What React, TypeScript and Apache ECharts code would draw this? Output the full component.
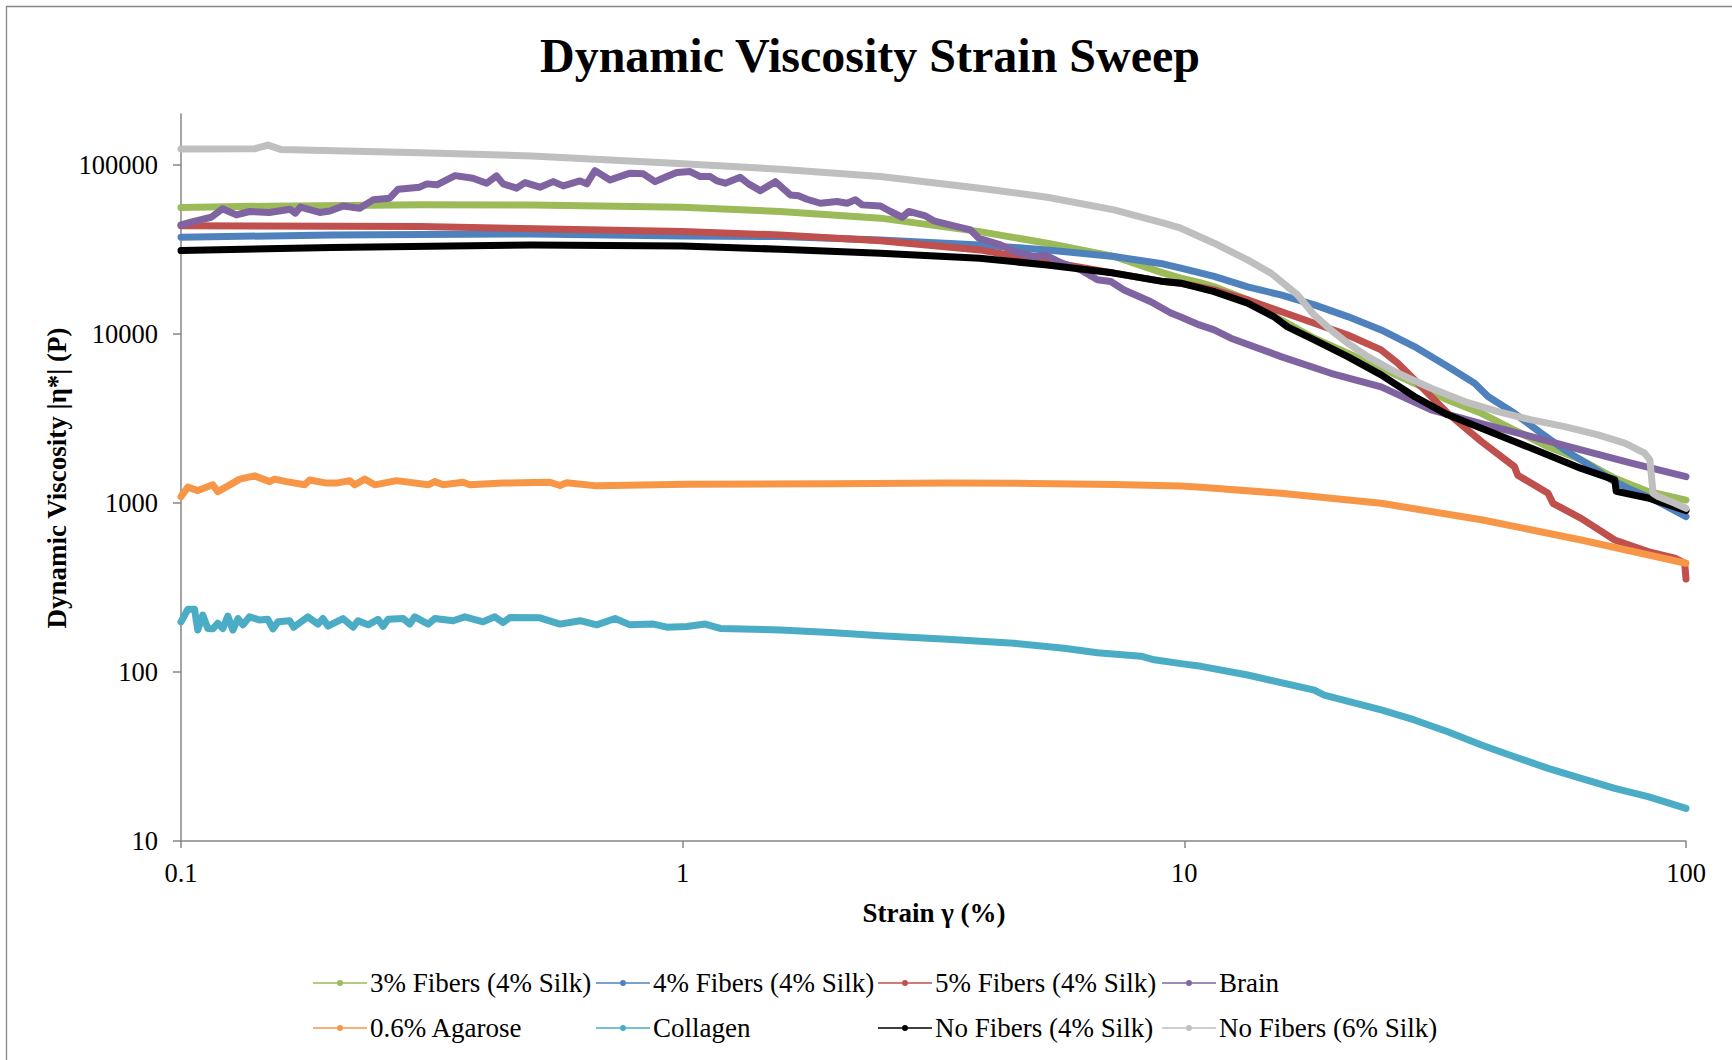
import React, { useEffect, useRef } from "react";
import * as echarts from "echarts";

const TITLE = "Dynamic Viscosity Strain Sweep";
const X_TITLE = "Strain γ (%)";
const Y_TITLE = "Dynamic Viscosity |η*| (P)";
const xTickLabels = ["0.1", "1", "10", "100"];
const yTickLabels = ["10", "100", "1000", "10000", "100000"];

const seriesNames = [
  "3% Fibers (4% Silk)",
  "4% Fibers (4% Silk)",
  "5% Fibers (4% Silk)",
  "Brain",
  "0.6% Agarose",
  "Collagen",
  "No Fibers (4% Silk)",
  "No Fibers (6% Silk)",
];
const seriesColors = ["#9BBB59", "#4F81BD", "#C0504D", "#8064A2", "#F79646", "#4BACC6", "#000000", "#BFBFBF"];

const fibers3: [number, number][] = [
  [0.1, 55900], [0.15, 57000], [0.3, 58000], [0.5, 57800], [1, 56200], [1.565, 53000], [2.479, 48400],
  [3.91, 40300], [5.33, 34400], [7.24, 28700], [9.1, 22900], [9.84, 21400], [10.7, 20200], [11.47, 19000],
  [13.37, 15900], [15.58, 12100], [18.16, 9430], [21.17, 7690], [24.68, 6270], [28.75, 5110], [33.5, 4060],
  [39.1, 3390], [45.5, 2700], [53.1, 2150], [61.8, 1800], [72.1, 1400], [84, 1170], [100, 1040],
];

const fibers4: [number, number][] = [
  [0.1, 37300], [0.2, 38500], [0.5, 39000], [1, 38000], [1.565, 37700], [2.479, 36000], [3.91, 33600],
  [5.33, 31400], [7.24, 28700], [9.1, 25900], [9.84, 24500], [11.47, 21900], [13.37, 19000], [15.58, 17000],
  [18.16, 14850], [21.17, 12660], [24.68, 10560], [28.75, 8420], [33.5, 6405], [37.9, 5110], [40.3, 4260],
  [45.5, 3390], [51.5, 2580], [57.3, 2060], [64.8, 1640], [71, 1370], [76.7, 1220], [86.7, 1040], [100, 830],
];

const fibers5: [number, number][] = [
  [0.1, 43600], [0.3, 43200], [1, 40300], [1.565, 38500], [2.479, 35600], [3.91, 31400], [5.33, 26800],
  [7.24, 22900], [9.1, 20400], [9.84, 19950], [11.47, 18200], [13.37, 15900], [15.58, 13560], [18.16, 11560],
  [21.17, 9860], [24.68, 8040], [26.65, 6710], [28.75, 5350], [33.5, 3390], [39.1, 2310], [45.5, 1640],
  [46.2, 1460], [53.1, 1140], [54.3, 995], [61.8, 811], [72.1, 604], [84, 515], [95, 471], [99.4, 440], [100, 355],
];

const brain: [number, number][] = [
  [0.1, 44200], [0.1056, 46200], [0.1149, 49000], [0.121, 55000], [0.1289, 50600], [0.137, 53000],
  [0.15, 52300], [0.165, 54700], [0.169, 51800], [0.173, 56300], [0.189, 52300], [0.198, 53400],
  [0.2106, 57100], [0.227, 55400], [0.2415, 62100], [0.2606, 63500], [0.271, 71800], [0.299, 73800],
  [0.309, 77200], [0.3236, 76200], [0.3518, 86400], [0.382, 83400], [0.4066, 77900], [0.4256, 86100],
  [0.4387, 77200], [0.4667, 72800], [0.485, 78600], [0.5194, 73800], [0.552, 79600], [0.578, 75100],
  [0.6242, 80400], [0.644, 77200], [0.6687, 92500], [0.7166, 81500], [0.7855, 89300], [0.835, 88500],
  [0.881, 79600], [0.93, 85300], [0.9736, 90200], [1.035, 91300], [1.084, 85300], [1.135, 85300],
  [1.17, 80400], [1.216, 77900], [1.302, 84500], [1.353, 77200], [1.428, 70400], [1.53, 79600],
  [1.639, 66400], [1.702, 65600], [1.769, 62600], [1.881, 59300], [2.031, 60700], [2.127, 59300],
  [2.21, 62100], [2.279, 58000], [2.479, 57100], [2.596, 53000], [2.739, 49000], [2.824, 53000],
  [3.048, 49900], [3.166, 46700], [3.471, 43600], [3.748, 41200], [3.894, 36800], [4.302, 33600],
  [4.645, 30300], [5.015, 28700], [5.292, 29300], [5.668, 26400], [6.216, 23900], [6.712, 20900],
  [7.134, 20400], [7.585, 18200], [8.575, 15500], [9.397, 13300], [9.84, 12600], [10.71, 11300],
  [11.47, 10560], [12.38, 9430], [15.58, 7340], [19.6, 5850], [24.68, 4860], [31.05, 3550],
  [39.1, 2950], [49.2, 2470], [61.8, 2060], [77.8, 1720], [100, 1430],
];

const agarose: [number, number][] = [
  [0.1, 1090], [0.1032, 1240], [0.108, 1183], [0.1157, 1280], [0.1184, 1167], [0.1269, 1310], [0.1309, 1383],
  [0.1402, 1446], [0.1502, 1337], [0.1537, 1383], [0.1622, 1337], [0.1764, 1280], [0.1805, 1368], [0.195, 1310],
  [0.204, 1310], [0.217, 1355], [0.222, 1280], [0.2324, 1383], [0.2433, 1280], [0.2689, 1355], [0.311, 1280],
  [0.3206, 1337], [0.333, 1280], [0.365, 1325], [0.3765, 1280], [0.4387, 1310], [0.5437, 1325], [0.5693, 1268],
  [0.5872, 1318], [0.674, 1262], [1.02, 1290], [2, 1300], [3.38, 1310], [5, 1305], [7.24, 1285], [9.84, 1260],
  [10.8, 1240], [15.58, 1140], [24.68, 995], [39.1, 795], [61.8, 604], [100, 440],
];

const collagen: [number, number][] = [
  [0.1, 198], [0.1032, 235], [0.1064, 235], [0.108, 177], [0.1105, 217], [0.1131, 181], [0.1157, 180],
  [0.1184, 194], [0.1212, 181], [0.124, 214], [0.1269, 177], [0.1299, 207], [0.1329, 190], [0.137, 212],
  [0.1434, 203], [0.149, 205], [0.1525, 180], [0.1561, 198], [0.1647, 201], [0.1677, 184], [0.179, 212],
  [0.1875, 192], [0.1918, 207], [0.1963, 187], [0.2104, 207], [0.2203, 184], [0.2254, 201], [0.236, 190],
  [0.2471, 205], [0.2528, 186], [0.2587, 205], [0.2772, 207], [0.2858, 192], [0.2924, 212], [0.311, 192],
  [0.3206, 207], [0.3487, 201], [0.368, 212], [0.4, 198], [0.4223, 212], [0.4387, 196], [0.4525, 210],
  [0.5194, 209], [0.5693, 192], [0.6243, 201], [0.674, 190], [0.7333, 207], [0.7855, 190], [0.8745, 192],
  [0.93, 184], [1.02, 186], [1.109, 192], [1.188, 181], [1.565, 177], [1.97, 171], [2.479, 164], [3.367, 156],
  [4.574, 148], [5.754, 138], [6.712, 130], [8.19, 124], [8.71, 118], [9.84, 112], [10.8, 108], [13.37, 96],
  [18.16, 78], [19.0, 73], [24.68, 59.6], [28.75, 52], [33.5, 44.3], [39.1, 37], [45.5, 31.5], [53.1, 26.9],
  [61.8, 23.5], [72.1, 20.5], [84, 18.3], [100, 15.6],
];

const noFibers4: [number, number][] = [
  [0.1, 31100], [0.2, 32500], [0.5, 33600], [1, 33100], [1.565, 31700], [2.479, 30000], [3.91, 28000],
  [5.33, 25600], [7.24, 22900], [9.1, 20400], [9.84, 19950], [11.47, 17800], [13.37, 15200], [15.11, 12600],
  [16.06, 11000], [18.16, 9210], [21.17, 7340], [24.68, 5720], [28.75, 4260], [33.5, 3320], [39.1, 2770],
  [45.5, 2310], [53.1, 1920], [61.8, 1600], [72.1, 1370], [72.6, 1170], [84, 1070], [100, 900],
];

const noFibers6: [number, number][] = [
  [0.1, 124000], [0.14, 124500], [0.149, 131000], [0.158, 123500], [0.3, 118000], [0.5, 113000],
  [0.98, 102000], [1.565, 94300], [2.479, 85300], [3.91, 72800], [5.33, 64400], [7.24, 54200],
  [9.1, 45200], [9.84, 42200], [11.47, 34400], [13.37, 27400], [14.88, 22900], [16.06, 19000],
  [16.82, 17000], [18.16, 12900], [19.6, 10560], [21.17, 8810], [23.21, 7340], [26.65, 5850],
  [31.05, 4770], [36.2, 3980], [42.2, 3470], [49.2, 3100], [57.3, 2830], [66.8, 2530], [75.5, 2260],
  [82.7, 1970], [84.7, 1800], [86, 1140], [88, 1090], [95, 995], [100, 930],
];

const seriesData = [fibers3, fibers4, fibers5, brain, agarose, collagen, noFibers4, noFibers6];

const legendColumns = [
  [seriesNames[0], seriesNames[4]],
  [seriesNames[1], seriesNames[5]],
  [seriesNames[2], seriesNames[6]],
  [seriesNames[3], seriesNames[7]],
];
const legendLefts = [313, 596, 878, 1162];

const FONT = "'Liberation Serif', 'Times New Roman', serif";
const LEGEND_ICON =
  "path://M0,2.2 L24,2.2 L24,3.8 L0,3.8 Z M30,2.2 L54,2.2 L54,3.8 L30,3.8 Z M30,3 A3,3 0 1 1 24,3 A3,3 0 1 1 30,3 Z";

export default function App() {
  const ref = useRef<HTMLDivElement>(null);

  useEffect(() => {
    if (!ref.current) return;
    const chart = echarts.init(ref.current, undefined, { renderer: "svg" });

    const axisLine = { show: true, lineStyle: { color: "#868686", width: 1.5 } };
    const labelStyle = { fontFamily: FONT, fontSize: 26.5, color: "#000" };

    chart.setOption({
      animation: false,
      backgroundColor: "#fff",
      grid: { left: 181, right: 46, top: 114, bottom: 219, containLabel: false },
      xAxis: {
        type: "log",
        logBase: 10,
        min: 0.1,
        max: 100,
        axisLine,
        axisTick: { show: true, length: 7, lineStyle: { color: "#868686", width: 1.5 } },
        splitLine: { show: false },
        minorTick: { show: false },
        axisLabel: {
          ...labelStyle,
          margin: 18,
          formatter: (v: number) => {
            const e = Math.log10(v);
            const r = Math.round(e);
            if (Math.abs(e - r) > 1e-6) return "";
            return xTickLabels[r + 1] ?? "";
          },
        },
      },
      yAxis: {
        type: "log",
        logBase: 10,
        min: 10,
        max: 200000,
        axisLine,
        axisTick: { show: true, length: 8, lineStyle: { color: "#868686", width: 1.5 } },
        splitLine: { show: false },
        minorTick: { show: false },
        axisLabel: {
          ...labelStyle,
          margin: 23,
          showMaxLabel: false,
          formatter: (v: number) => {
            const e = Math.log10(v);
            const r = Math.round(e);
            if (Math.abs(e - r) > 1e-6) return "";
            return yTickLabels[r - 1] ?? "";
          },
        },
      },
      legend: legendColumns.map((col, i) => ({
        data: col,
        orient: "vertical",
        left: legendLefts[i],
        top: 969.5,
        padding: 0,
        itemGap: 18,
        itemWidth: 54,
        itemHeight: 6,
        icon: LEGEND_ICON,
        selectedMode: false,
        textStyle: { fontFamily: FONT, fontSize: 27, color: "#000", padding: [0, 0, 0, -2] },
      })),
      graphic: [
        {
          type: "rect",
          silent: true,
          shape: { x: 6.5, y: 6.5, width: 2000, height: 2000 },
          style: { fill: "none", stroke: "#868686", lineWidth: 1.3 },
        },
        {
          type: "text",
          x: 870,
          y: 55,
          style: {
            text: TITLE,
            font: `bold 48px ${FONT}`,
            fill: "#000",
            align: "center",
            verticalAlign: "middle",
          },
        },
        {
          type: "text",
          x: 934,
          y: 913,
          style: {
            text: X_TITLE,
            font: `bold 27px ${FONT}`,
            fill: "#000",
            align: "center",
            verticalAlign: "middle",
          },
        },
        {
          type: "text",
          x: 57,
          y: 478,
          rotation: Math.PI / 2,
          style: {
            text: Y_TITLE,
            font: `bold 27px ${FONT}`,
            fill: "#000",
            align: "center",
            verticalAlign: "middle",
          },
        },
      ],
      series: seriesNames.map((name, i) => ({
        name,
        type: "line",
        data: seriesData[i],
        showSymbol: false,
        symbol: "circle",
        symbolSize: 6,
        smooth: false,
        color: seriesColors[i],
        itemStyle: { color: seriesColors[i] },
        lineStyle: { color: seriesColors[i], width: 7, cap: "round", join: "round" },
        emphasis: { disabled: true },
        silent: true,
        z: 2 + i * 0.01,
      })),
    });

    return () => chart.dispose();
  }, []);

  return (
    <div
      ref={ref}
      style={{ position: "absolute", left: 0, top: 0, width: 1732, height: 1060, background: "#fff" }}
    />
  );
}
